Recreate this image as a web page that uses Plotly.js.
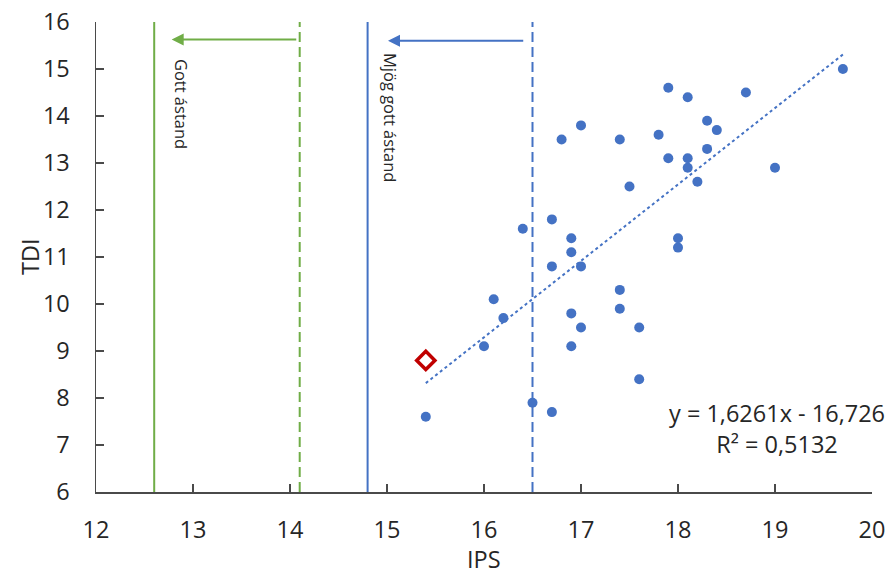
<!DOCTYPE html>
<html>
<head>
<meta charset="utf-8">
<script src="https://cdn.plot.ly/plotly-3.0.1.min.js"></script>
<style>html,body{margin:0;padding:0;background:#fff}#chart{width:892px;height:575px}</style>
</head>
<body>
<div id="chart"></div>
<script>
// ---- data ----
const ipsValues = [19.7, 17.9, 18.1, 18.7, 18.3, 18.4, 17.4, 17.8, 18.3, 17.9, 18.1, 18.1, 18.2, 19.0, 17.5, 18.0, 18.0, 17.0, 16.8, 16.4, 16.7, 16.9, 16.9, 16.7, 17.0, 17.4, 17.4, 16.1, 16.2, 16.9, 17.0, 17.6, 16.0, 16.9, 17.6, 16.5, 16.7, 15.4];
const tdiValues = [15.0, 14.6, 14.4, 14.5, 13.9, 13.7, 13.5, 13.6, 13.3, 13.1, 13.1, 12.9, 12.6, 12.9, 12.5, 11.4, 11.2, 13.8, 13.5, 11.6, 11.8, 11.4, 11.1, 10.8, 10.8, 10.3, 9.9, 10.1, 9.7, 9.8, 9.5, 9.5, 9.1, 9.1, 8.4, 7.9, 7.7, 7.6];
const highlightIps = [15.4];
const highlightTdi = [8.8];
const trendSlope = 1.6261;
const trendIntercept = -16.726;
const trendR2 = 0.5132;
const greenThresholds = [12.6, 14.1];   // solid, dashed
const blueThresholds = [14.8, 16.5];    // solid, dashed
const labelGood = "Gott ástand";
const labelVeryGood = "Mjög gott ástand";
const xTitle = "IPS";
const yTitle = "TDI";
const xTicks = [12, 13, 14, 15, 16, 17, 18, 19, 20];
const yTicks = [6, 7, 8, 9, 10, 11, 12, 13, 14, 15, 16];

// ---- build ----
const BLUE = "#4472C4", GREEN = "#70AD47", RED = "#C00000", TXT = "#262626";
const FONT = "Open Sans, DejaVu Sans, sans-serif";
const fmt = (v, d) => v.toFixed(d).replace(".", ",");

const xMin = Math.min(...ipsValues.concat(highlightIps));
const xMax = Math.max(...ipsValues);
const trendX = [xMin, xMax];
const trendY = trendX.map(x => trendSlope * x + trendIntercept);

const traces = [
  {x: trendX, y: trendY, mode: "lines", line: {color: BLUE, width: 2, dash: "dot"}, hoverinfo: "skip"},
  {x: ipsValues, y: tdiValues, mode: "markers", marker: {color: BLUE, size: 10}},
  {x: highlightIps, y: highlightTdi, mode: "markers",
   marker: {symbol: "diamond-open", color: RED, size: 14, line: {color: RED, width: 3.5}}}
];

function vline(x, color, dash) {
  return {type: "line", xref: "x", yref: "y", x0: x, x1: x, y0: yTicks[0], y1: yTicks[yTicks.length - 1],
          line: {color: color, width: 2, dash: dash}};
}
const shapes = [
  vline(greenThresholds[0], GREEN, "solid"),
  vline(greenThresholds[1], GREEN, "10px,5px"),
  vline(blueThresholds[0], BLUE, "solid"),
  vline(blueThresholds[1], BLUE, "10px,5px")
];

const annotations = [
  {x: greenThresholds[0] + 0.18, y: 15.63, ax: greenThresholds[1] - 0.02, ay: 15.63, xref: "x", yref: "y",
   axref: "x", ayref: "y", text: "", showarrow: true, arrowhead: 2, arrowsize: 1.2, arrowwidth: 2, arrowcolor: GREEN},
  {x: blueThresholds[0] + 0.21, y: 15.6, ax: blueThresholds[1] - 0.08, ay: 15.6, xref: "x", yref: "y",
   axref: "x", ayref: "y", text: "", showarrow: true, arrowhead: 2, arrowsize: 1.2, arrowwidth: 2, arrowcolor: BLUE},
  {x: 12.88, y: 14.25, xref: "x", yref: "y", text: labelGood, showarrow: false, textangle: 90,
   font: {family: FONT, size: 16.5, color: TXT}},
  {x: 15.03, y: 13.96, xref: "x", yref: "y", text: labelVeryGood, showarrow: false, textangle: 90,
   font: {family: FONT, size: 16.5, color: TXT}},
  {x: 19.02, y: 7.36, xref: "x", yref: "y", showarrow: false, align: "center",
   text: "y = " + fmt(trendSlope, 4) + "x - " + fmt(-trendIntercept, 3) + "<br>R² = " + fmt(trendR2, 4),
   font: {family: FONT, size: 23.5, color: TXT}},
  {x: 0.5, y: -0.143, xref: "paper", yref: "paper", text: xTitle, showarrow: false,
   xanchor: "center", yanchor: "middle", font: {family: FONT, size: 23.5, color: TXT}},
  {x: -0.085, y: 0.5, xref: "paper", yref: "paper", text: yTitle, showarrow: false, textangle: -90,
   xanchor: "center", yanchor: "middle", font: {family: FONT, size: 23.5, color: TXT}}
];

const axisCommon = {
  showgrid: false, zeroline: false, showline: true, linecolor: "#4a4a4a", linewidth: 1.5,
  ticks: "inside", ticklen: 8, tickwidth: 1.5, tickcolor: "#4a4a4a",
  tickfont: {family: FONT, size: 23.5, color: TXT}
};

const layout = {
  width: 892, height: 575,
  margin: {l: 96, r: 20, t: 22, b: 83},
  paper_bgcolor: "#fff", plot_bgcolor: "#fff",
  showlegend: false,
  xaxis: Object.assign({}, axisCommon, {range: [xTicks[0], xTicks[xTicks.length - 1]], tickvals: xTicks,
    ticklabelstandoff: 16}),
  yaxis: Object.assign({}, axisCommon, {range: [yTicks[0], yTicks[yTicks.length - 1]], tickvals: yTicks,
    ticklabelstandoff: 20}),
  shapes: shapes,
  annotations: annotations
};

Plotly.newPlot("chart", traces, layout, {staticPlot: true});
</script>
</body>
</html>
